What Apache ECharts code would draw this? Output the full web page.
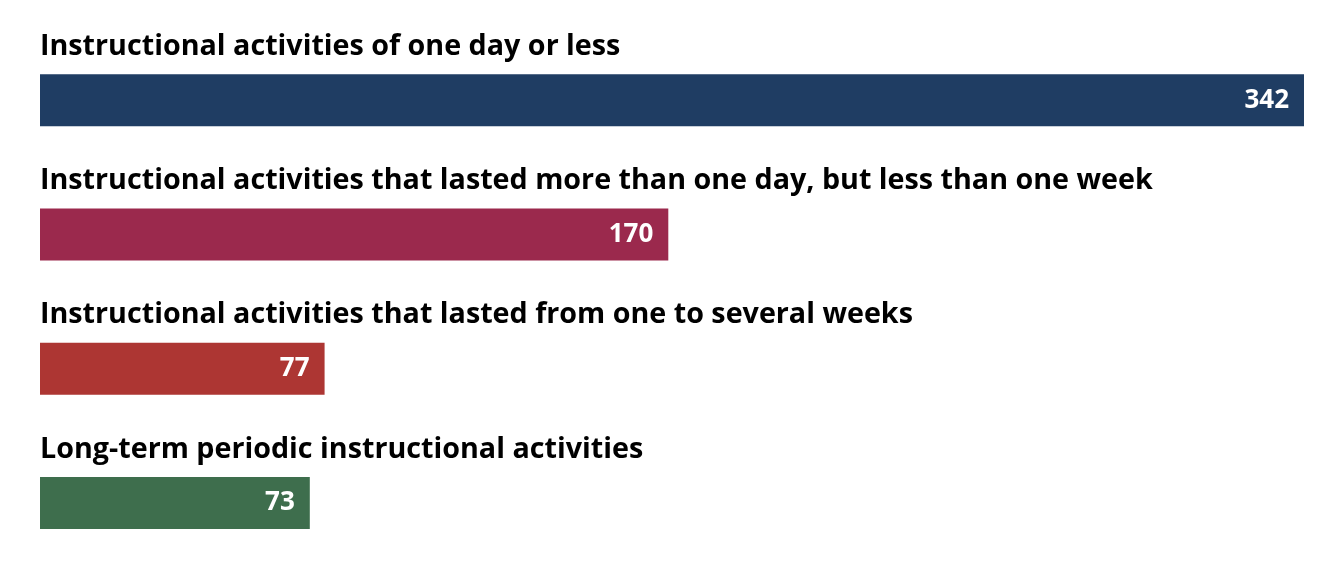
<!DOCTYPE html>
<html><head><meta charset="utf-8">
<script src="https://cdn.jsdelivr.net/npm/echarts@6/dist/echarts.min.js"></script>
<style>html,body{margin:0;padding:0;background:#fff}#c{width:1344px;height:576px}</style>
</head><body><div id="c"></div>
<script>
const categories = [
  "Instructional activities of one day or less",
  "Instructional activities that lasted more than one day, but less than one week",
  "Instructional activities that lasted from one to several weeks",
  "Long-term periodic instructional activities"
];
const values = [342, 170, 77, 73];
const colors = ["#1F3D63", "#9B294D", "#AD3633", "#3E6E4D"];

const chart = echarts.init(document.getElementById('c'));
chart.setOption({
  animation: false,
  grid: {left: 40, right: 40, top: 33, height: 537, containLabel: false},
  xAxis: {type: 'value', min: 0, max: 342, show: false},
  yAxis: {
    type: 'category', data: categories, inverse: true,
    axisLine: {show: false}, axisTick: {show: false}, splitLine: {show: false},
    axisLabel: {
      inside: true, margin: 0, align: 'left', verticalAlign: 'bottom',
      padding: [0, 0, 39, 0],
      color: '#000', fontFamily: 'Open Sans', fontWeight: 'bold', fontSize: 28.7
    }
  },
  series: [{
    type: 'bar', barWidth: 52,
    data: values.map((v, i) => ({value: v, itemStyle: {color: colors[i]}})),
    label: {
      show: true, position: 'insideRight', distance: 15,
      color: '#fff', fontFamily: 'Open Sans', fontWeight: 'bold', fontSize: 26
    }
  }]
});
</script></body></html>
